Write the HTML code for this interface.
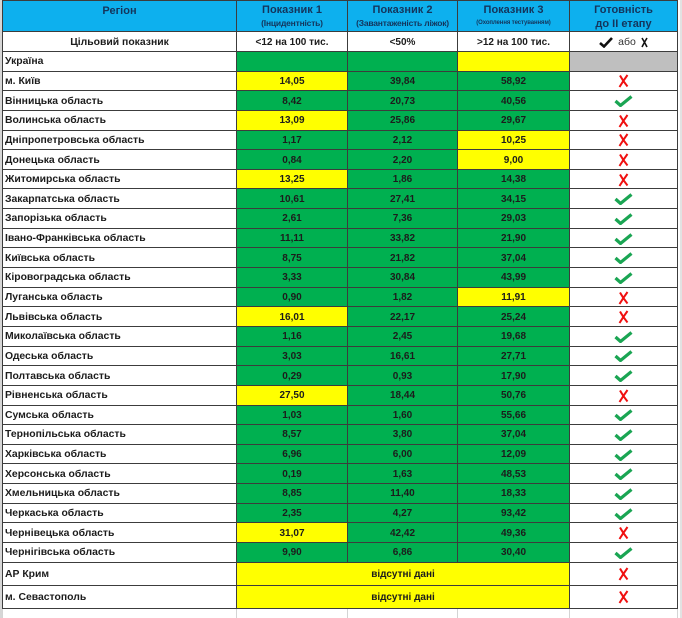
<!DOCTYPE html>
<html><head><meta charset="utf-8">
<style>
html,body{margin:0;padding:0;background:#fff;}
body{width:682px;height:618px;position:relative;overflow:hidden;font-family:"Liberation Sans","DejaVu Sans",sans-serif;}
.lstrip{position:absolute;left:0;top:0;width:2px;height:618px;background:#d6d6d6;}
.rstrip{position:absolute;left:680px;top:0;width:2px;height:618px;background:#e2e2e2;}
.vl{position:absolute;top:609px;height:9px;width:1px;background:#d4d4d4;}
.grid{position:absolute;left:2px;top:0;width:674px;padding:1px;background:#3c3c3c;display:grid;
 grid-template-columns:233px 110px 109px 111px 107px;
 grid-template-rows:30px 19px repeat(26,18.65px) 22px 22px;
 gap:1px;}
.c{background:#fff;display:flex;align-items:center;justify-content:center;font-weight:bold;font-size:10px;color:#1c1c1c;overflow:hidden;white-space:nowrap;padding-top:1px;box-sizing:border-box;}
.l{justify-content:flex-start;padding-left:2px;font-size:10.4px;}
.g{background:#00b050;}
.y{background:#ffff00;}
.gr{background:#bfbfbf;}
.h{background:#0db0ee;color:#14355c;flex-direction:column;justify-content:flex-start;padding-top:2px;font-size:11px;line-height:14px;font-weight:bold;}
.h .s{font-size:8.5px;line-height:12px;letter-spacing:-0.2px;font-weight:bold;}
.h .t{font-size:6px;line-height:12px;letter-spacing:-0.1px;font-weight:bold;}
.span{grid-column:2 / span 3;}
svg{display:block;}
</style></head><body>
<div class="lstrip"></div>
<div class="rstrip"></div>
<div class="vl" style="left:2px"></div>
<div class="vl" style="left:236px"></div>
<div class="vl" style="left:347px"></div>
<div class="vl" style="left:457px"></div>
<div class="vl" style="left:569px"></div>
<div class="vl" style="left:677px"></div>
<div class="grid">
<div class="c h" style="padding-top:3px">Регіон</div>
<div class="c h">Показник 1<span class="s">(Інцидентність)</span></div>
<div class="c h">Показник 2<span class="s">(Завантаженість ліжок)</span></div>
<div class="c h">Показник 3<span class="t">(Охоплення тестуванням)</span></div>
<div class="c h">Готовність<span>до II етапу</span></div>

<div class="c" style="font-size:10.4px">Цільовий показник</div>
<div class="c">&lt;12 на 100 тис.</div>
<div class="c">&lt;50%</div>
<div class="c">&gt;12 на 100 тис.</div>
<div class="c"><svg width="14" height="11" viewBox="0 0 14 11"><path d="M1 6 L5 9.5 L13 1" fill="none" stroke="#111" stroke-width="2.6"/></svg><span style="font-weight:normal;font-size:10.5px;color:#333;margin:0 5px 0 5px">або</span><svg width="7" height="11" viewBox="0 0 7 11"><path d="M1 1 Q3.5 5 6 10 M6 1 Q3.5 5 1 10" fill="none" stroke="#111" stroke-width="1.6"/></svg></div>

<div class="c l">Україна</div><div class="c g"></div><div class="c g"></div><div class="c y"></div><div class="c gr"></div>

<div class="c l">м. Київ</div><div class="c y">14,05</div><div class="c g">39,84</div><div class="c g">58,92</div><div class="c"><svg width="11" height="14" viewBox="0 0 11 14"><path d="M2 1.5 Q5 7 9.5 12.5 M9.5 1 Q5.5 6.5 1.5 13" fill="none" stroke="#f01010" stroke-width="2"/></svg></div>
<div class="c l">Вінницька область</div><div class="c g">8,42</div><div class="c g">20,73</div><div class="c g">40,56</div><div class="c"><svg width="19" height="12" viewBox="0 0 19 12"><path d="M1.5 6 L6.5 10.5 L17.5 1.5" fill="none" stroke="#1aa553" stroke-width="3.2"/></svg></div>
<div class="c l">Волинська область</div><div class="c y">13,09</div><div class="c g">25,86</div><div class="c g">29,67</div><div class="c"><svg width="11" height="14" viewBox="0 0 11 14"><path d="M2 1.5 Q5 7 9.5 12.5 M9.5 1 Q5.5 6.5 1.5 13" fill="none" stroke="#f01010" stroke-width="2"/></svg></div>
<div class="c l">Дніпропетровська область</div><div class="c g">1,17</div><div class="c g">2,12</div><div class="c y">10,25</div><div class="c"><svg width="11" height="14" viewBox="0 0 11 14"><path d="M2 1.5 Q5 7 9.5 12.5 M9.5 1 Q5.5 6.5 1.5 13" fill="none" stroke="#f01010" stroke-width="2"/></svg></div>
<div class="c l">Донецька область</div><div class="c g">0,84</div><div class="c g">2,20</div><div class="c y">9,00</div><div class="c"><svg width="11" height="14" viewBox="0 0 11 14"><path d="M2 1.5 Q5 7 9.5 12.5 M9.5 1 Q5.5 6.5 1.5 13" fill="none" stroke="#f01010" stroke-width="2"/></svg></div>
<div class="c l">Житомирська область</div><div class="c y">13,25</div><div class="c g">1,86</div><div class="c g">14,38</div><div class="c"><svg width="11" height="14" viewBox="0 0 11 14"><path d="M2 1.5 Q5 7 9.5 12.5 M9.5 1 Q5.5 6.5 1.5 13" fill="none" stroke="#f01010" stroke-width="2"/></svg></div>
<div class="c l">Закарпатська область</div><div class="c g">10,61</div><div class="c g">27,41</div><div class="c g">34,15</div><div class="c"><svg width="19" height="12" viewBox="0 0 19 12"><path d="M1.5 6 L6.5 10.5 L17.5 1.5" fill="none" stroke="#1aa553" stroke-width="3.2"/></svg></div>
<div class="c l">Запорізька область</div><div class="c g">2,61</div><div class="c g">7,36</div><div class="c g">29,03</div><div class="c"><svg width="19" height="12" viewBox="0 0 19 12"><path d="M1.5 6 L6.5 10.5 L17.5 1.5" fill="none" stroke="#1aa553" stroke-width="3.2"/></svg></div>
<div class="c l">Івано-Франківська область</div><div class="c g">11,11</div><div class="c g">33,82</div><div class="c g">21,90</div><div class="c"><svg width="19" height="12" viewBox="0 0 19 12"><path d="M1.5 6 L6.5 10.5 L17.5 1.5" fill="none" stroke="#1aa553" stroke-width="3.2"/></svg></div>
<div class="c l">Київська область</div><div class="c g">8,75</div><div class="c g">21,82</div><div class="c g">37,04</div><div class="c"><svg width="19" height="12" viewBox="0 0 19 12"><path d="M1.5 6 L6.5 10.5 L17.5 1.5" fill="none" stroke="#1aa553" stroke-width="3.2"/></svg></div>
<div class="c l">Кіровоградська область</div><div class="c g">3,33</div><div class="c g">30,84</div><div class="c g">43,99</div><div class="c"><svg width="19" height="12" viewBox="0 0 19 12"><path d="M1.5 6 L6.5 10.5 L17.5 1.5" fill="none" stroke="#1aa553" stroke-width="3.2"/></svg></div>
<div class="c l">Луганська область</div><div class="c g">0,90</div><div class="c g">1,82</div><div class="c y">11,91</div><div class="c"><svg width="11" height="14" viewBox="0 0 11 14"><path d="M2 1.5 Q5 7 9.5 12.5 M9.5 1 Q5.5 6.5 1.5 13" fill="none" stroke="#f01010" stroke-width="2"/></svg></div>
<div class="c l">Львівська область</div><div class="c y">16,01</div><div class="c g">22,17</div><div class="c g">25,24</div><div class="c"><svg width="11" height="14" viewBox="0 0 11 14"><path d="M2 1.5 Q5 7 9.5 12.5 M9.5 1 Q5.5 6.5 1.5 13" fill="none" stroke="#f01010" stroke-width="2"/></svg></div>
<div class="c l">Миколаївська область</div><div class="c g">1,16</div><div class="c g">2,45</div><div class="c g">19,68</div><div class="c"><svg width="19" height="12" viewBox="0 0 19 12"><path d="M1.5 6 L6.5 10.5 L17.5 1.5" fill="none" stroke="#1aa553" stroke-width="3.2"/></svg></div>
<div class="c l">Одеська область</div><div class="c g">3,03</div><div class="c g">16,61</div><div class="c g">27,71</div><div class="c"><svg width="19" height="12" viewBox="0 0 19 12"><path d="M1.5 6 L6.5 10.5 L17.5 1.5" fill="none" stroke="#1aa553" stroke-width="3.2"/></svg></div>
<div class="c l">Полтавська область</div><div class="c g">0,29</div><div class="c g">0,93</div><div class="c g">17,90</div><div class="c"><svg width="19" height="12" viewBox="0 0 19 12"><path d="M1.5 6 L6.5 10.5 L17.5 1.5" fill="none" stroke="#1aa553" stroke-width="3.2"/></svg></div>
<div class="c l">Рівненська область</div><div class="c y">27,50</div><div class="c g">18,44</div><div class="c g">50,76</div><div class="c"><svg width="11" height="14" viewBox="0 0 11 14"><path d="M2 1.5 Q5 7 9.5 12.5 M9.5 1 Q5.5 6.5 1.5 13" fill="none" stroke="#f01010" stroke-width="2"/></svg></div>
<div class="c l">Сумська область</div><div class="c g">1,03</div><div class="c g">1,60</div><div class="c g">55,66</div><div class="c"><svg width="19" height="12" viewBox="0 0 19 12"><path d="M1.5 6 L6.5 10.5 L17.5 1.5" fill="none" stroke="#1aa553" stroke-width="3.2"/></svg></div>
<div class="c l">Тернопільська область</div><div class="c g">8,57</div><div class="c g">3,80</div><div class="c g">37,04</div><div class="c"><svg width="19" height="12" viewBox="0 0 19 12"><path d="M1.5 6 L6.5 10.5 L17.5 1.5" fill="none" stroke="#1aa553" stroke-width="3.2"/></svg></div>
<div class="c l">Харківська область</div><div class="c g">6,96</div><div class="c g">6,00</div><div class="c g">12,09</div><div class="c"><svg width="19" height="12" viewBox="0 0 19 12"><path d="M1.5 6 L6.5 10.5 L17.5 1.5" fill="none" stroke="#1aa553" stroke-width="3.2"/></svg></div>
<div class="c l">Херсонська область</div><div class="c g">0,19</div><div class="c g">1,63</div><div class="c g">48,53</div><div class="c"><svg width="19" height="12" viewBox="0 0 19 12"><path d="M1.5 6 L6.5 10.5 L17.5 1.5" fill="none" stroke="#1aa553" stroke-width="3.2"/></svg></div>
<div class="c l">Хмельницька область</div><div class="c g">8,85</div><div class="c g">11,40</div><div class="c g">18,33</div><div class="c"><svg width="19" height="12" viewBox="0 0 19 12"><path d="M1.5 6 L6.5 10.5 L17.5 1.5" fill="none" stroke="#1aa553" stroke-width="3.2"/></svg></div>
<div class="c l">Черкаська область</div><div class="c g">2,35</div><div class="c g">4,27</div><div class="c g">93,42</div><div class="c"><svg width="19" height="12" viewBox="0 0 19 12"><path d="M1.5 6 L6.5 10.5 L17.5 1.5" fill="none" stroke="#1aa553" stroke-width="3.2"/></svg></div>
<div class="c l">Чернівецька область</div><div class="c y">31,07</div><div class="c g">42,42</div><div class="c g">49,36</div><div class="c"><svg width="11" height="14" viewBox="0 0 11 14"><path d="M2 1.5 Q5 7 9.5 12.5 M9.5 1 Q5.5 6.5 1.5 13" fill="none" stroke="#f01010" stroke-width="2"/></svg></div>
<div class="c l">Чернігівська область</div><div class="c g">9,90</div><div class="c g">6,86</div><div class="c g">30,40</div><div class="c"><svg width="19" height="12" viewBox="0 0 19 12"><path d="M1.5 6 L6.5 10.5 L17.5 1.5" fill="none" stroke="#1aa553" stroke-width="3.2"/></svg></div>

<div class="c l">АР Крим</div><div class="c y span">відсутні дані</div><div class="c"><svg width="11" height="14" viewBox="0 0 11 14"><path d="M2 1.5 Q5 7 9.5 12.5 M9.5 1 Q5.5 6.5 1.5 13" fill="none" stroke="#f01010" stroke-width="2"/></svg></div>
<div class="c l">м. Севастополь</div><div class="c y span">відсутні дані</div><div class="c"><svg width="11" height="14" viewBox="0 0 11 14"><path d="M2 1.5 Q5 7 9.5 12.5 M9.5 1 Q5.5 6.5 1.5 13" fill="none" stroke="#f01010" stroke-width="2"/></svg></div>
</div>
</body></html>
